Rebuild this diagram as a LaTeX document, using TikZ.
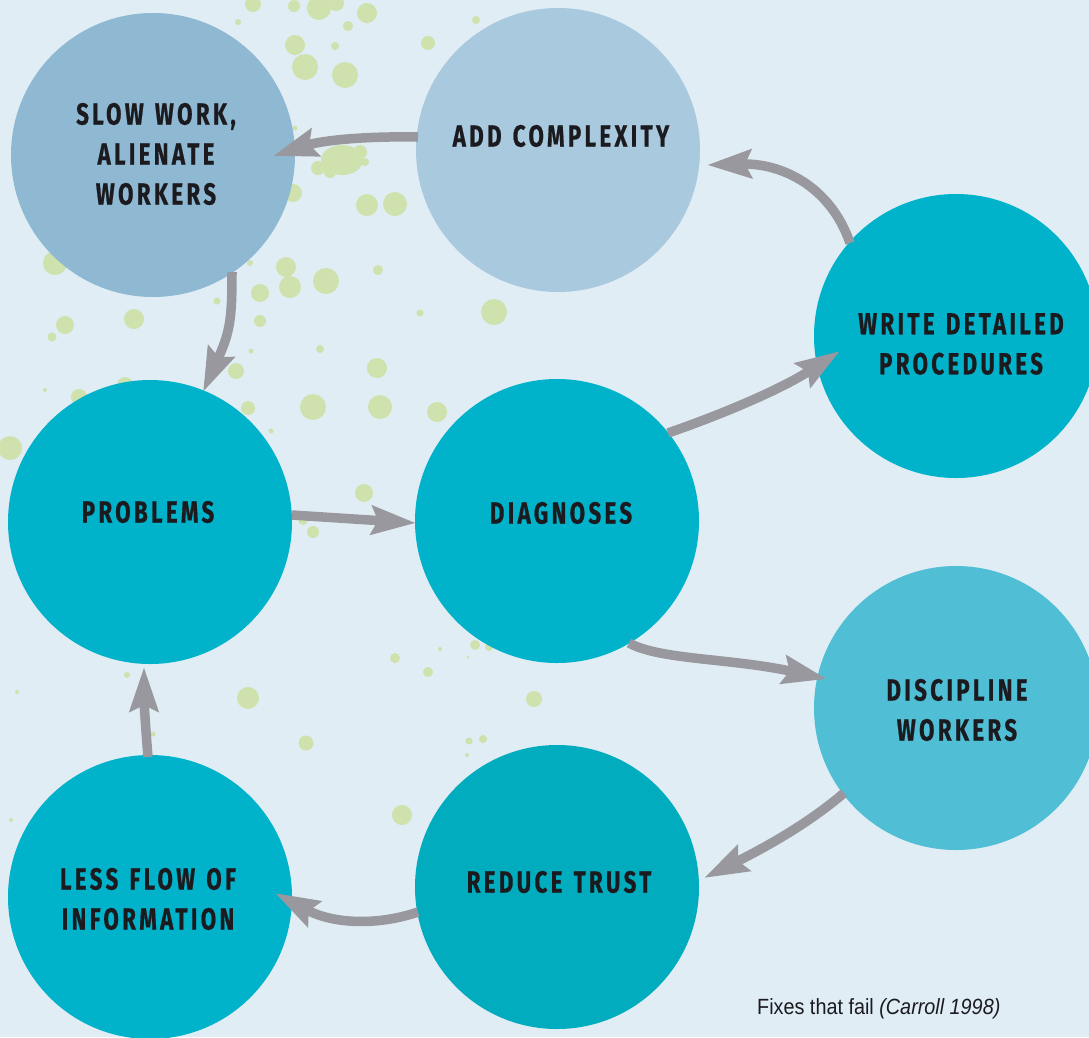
\documentclass[tikz,border=0pt]{standalone}
\usepackage{fontspec}
\setmainfont{Liberation Sans}
\newfontfamily\lblfont[FakeStretch=0.73,LetterSpace=11,WordSpace=1.3,FakeBold=0.6]{Fira Sans}
\newfontfamily\capfont[FakeStretch=0.9]{Liberation Sans}
\usetikzlibrary{arrows.meta,calc}
\definecolor{bgc}{RGB}{224,237,244}
\definecolor{splat}{RGB}{207,225,172}
\definecolor{cslow}{RGB}{143,184,210}
\definecolor{cadd}{RGB}{169,201,222}
\definecolor{cteal}{RGB}{0,178,202}
\definecolor{cdisc}{RGB}{80,190,213}
\definecolor{ctrust}{RGB}{0,172,190}
\definecolor{arrowc}{RGB}{153,152,158}
\definecolor{txt}{RGB}{27,27,31}
\begin{document}
\begin{tikzpicture}[x=1pt,y=-1pt,
  circ/.style={circle,minimum size=284pt,inner sep=0pt,outer sep=0pt,draw=none},
  lbl/.style={align=center,text=txt,font=\lblfont\bfseries\fontsize{30.5}{40}\selectfont,inner sep=0pt},
  flow/.style={draw=arrowc,line width=9.5pt,-{Stealth[length=44pt,width=28pt,inset=6pt]}},
  dot/.style={fill=splat}]
\fill[bgc] (0,0) rectangle (1089,1037);
\useasboundingbox (0,0) rectangle (1089,1037);
% splatter
\foreach \x/\y/\r in {253/4/8,294/6/6,319/8/12,336/3/8,367/13/10,238/22/3,348/26/5,295/45/10,335/46/4,305/67/13,345/75/13,428/43/7,476/20/4,293/193/9,367/205/11,395/204/12,55/263/12,286/267/10,290/287/11,326/281/13,378/270/5,250/263/3,260/293/9,217/301/3.5,260/321/6,134/319/10,65/325/9,52/337/4.5,320/349/4,420/313/3.5,494/312/13,377/368/10,236/371/8,251/351/2.5,313/407/13,380/407/12,437/412/10,248/408/7,79/397/8,45/390/2,10/448/12,125/385/8,271/431/2.5,364/493/9,313/532/6,303/520/5,395/658/5,428/672/5,475/645/5,489/647/4,440/649/2,468/657/1.5,127/675/3,17/692/2,248/698/11,534/699/8,153/734/2.5,306/743/7.5,469/741/3.5,483/739/4,467/755/2,11/820/2,318/168/7,360/152/7,330/172/6,295/128/2.5,365/162/4}
  \fill[splat] (\x,\y) circle (\r pt);
\fill[splat] (342,160) ellipse (21pt and 15pt);
\begin{scope}
  \clip (380,790) rectangle (430,824);
  \fill[splat] (402,815) circle (10pt);
\end{scope}
% circles
\node[circ,fill=cslow]  (c1) at (153,155) {};
\node[circ,fill=cadd]   (c2) at (558,150) {};
\node[circ,fill=cteal]  (c3) at (956,336) {};
\node[circ,fill=cteal]  (c4) at (150,522) {};
\node[circ,fill=cteal]  (c5) at (557,521) {};
\node[circ,fill=cdisc]  (c6) at (956,708) {};
\node[circ,fill=cteal]  (c7) at (150,897) {};
\node[circ,fill=ctrust] (c8) at (557,887) {};
% arrows
\draw[flow] ($(c2)+(-140,-13)$) .. controls ($(c2)+(-198,-14)$) and ($(c1)+(167,-14)$) .. ($(c1)+(120,1)$);
\draw[flow] ($(c1)+(79,117)$) .. controls ($(c1)+(79,165)$) and ($(c4)+(80,-190)$) .. ($(c4)+(53,-130)$);
\draw[flow] ($(c3)+(-106,-93)$) .. controls ($(c3)+(-126,-151)$) and ($(c2)+(222,13)$) .. ($(c2)+(149,15)$);
\draw[flow] ($(c5)+(111,-88)$) .. controls ($(c5)+(163,-106)$) and ($(c3)+(-176,54)$) .. ($(c3)+(-116,15)$);
\draw[flow] ($(c4)+(142,-7)$) -- ($(c5)+(-141,2)$);
\draw[flow] ($(c5)+(72,122)$) .. controls ($(c5)+(103,139)$) and ($(c6)+(-226,-50)$) .. ($(c6)+(-129,-29)$);
\draw[flow] ($(c6)+(-112,85)$) .. controls ($(c6)+(-146,114)$) and ($(c8)+(213,-42)$) .. ($(c8)+(147,-9)$);
\draw[flow] ($(c8)+(-139,25)$) .. controls ($(c8)+(-177,38)$) and ($(c7)+(185,28)$) .. ($(c7)+(125,-4)$);
\draw[flow] ($(c7)+(-2,-140)$) .. controls ($(c7)+(-5,-177)$) and ($(c4)+(-6,178)$) .. ($(c4)+(-6,145)$);
% labels
\node[lbl] (t1) at (156,154) {SLOW WORK,\\ALIENATE\\WORKERS};
\node[lbl] (t2) at (561,136) {ADD COMPLEXITY};
\node[lbl] (t3) at (961,344) {WRITE DETAILED\\PROCEDURES};
\node[lbl] (t4) at (148,512) {PROBLEMS};
\node[lbl] (t5) at (561,513) {DIAGNOSES};
\node[lbl] (t6) at (957,710) {DISCIPLINE\\WORKERS};
\node[lbl] (t7) at (148,899) {LESS FLOW OF\\INFORMATION};
\node[lbl] (t8) at (559,882) {REDUCE TRUST};
\node[anchor=base west,inner sep=0pt,text=txt,font=\capfont\fontsize{22}{26}\selectfont] (cap) at (757,1014) {Fixes that fail \textit{(Carroll 1998)}};
\end{tikzpicture}
\end{document}
